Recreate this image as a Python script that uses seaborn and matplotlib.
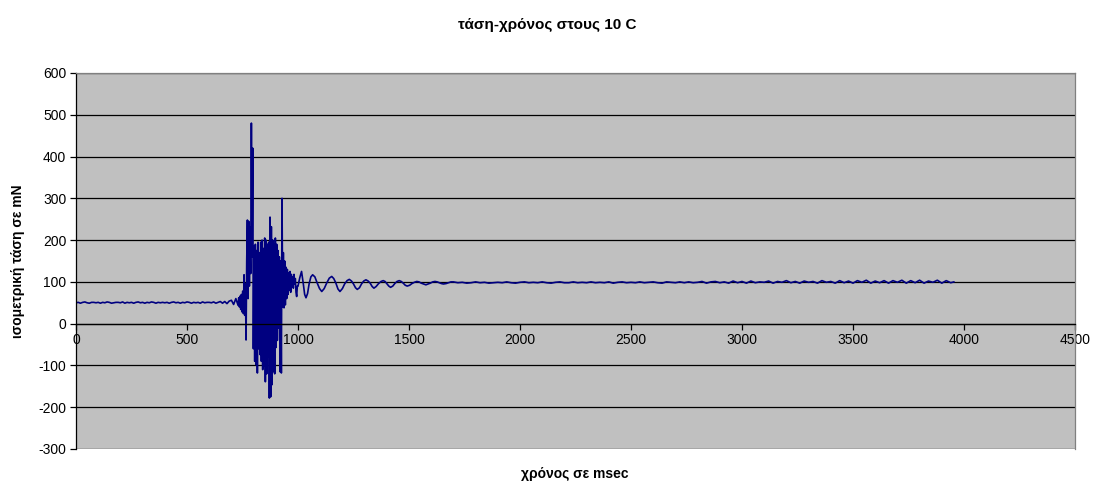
import numpy as np
import pandas as pd
import matplotlib
matplotlib.use("Agg")
import matplotlib.pyplot as plt
import seaborn as sns

# ---- data ----
# resting phase, sampled every 10 ms from 0 to 720 ms
rest_time = np.arange(0, 721, 10)
rest_mN = [50, 51, 49, 51, 52, 50, 49, 51, 51, 50,
           51, 49, 51, 50, 52, 51, 49, 50, 51, 51,
           50, 52, 49, 51, 50, 51, 49, 51, 52, 50,
           51, 49, 51, 50, 52, 51, 49, 51, 50, 51,
           50, 51, 49, 51, 52, 50, 51, 49, 51, 50,
           52, 51, 49, 51, 50, 51, 49, 52, 50, 51,
           51, 50, 52, 49, 51, 53, 49, 53, 48, 54,
           56, 46, 60]

# stimulation burst, sampled every 3 ms from 730 to 997 ms
burst_time = np.arange(730, 998, 3)
burst_mN = [44, 62, 40, 66, 34, 70, 28, 78, 24, 117,
            20, 95, -39, 150, 248, 60, 245, 90, 230, 120,
            480, 160, 420, -60, 185, -90, 190, -98, 175, -118,
            195, -60, 170, -74, 195, -90, 200, -110, 180, -100,
            205, -139, 200, -120, 190, -80, 195, -178, 255, -175,
            232, -146, 200, -115, 190, -120, 205, -57, 190, -40,
            175, -10, 160, -115, 150, -118, 300, 40, 170, 38,
            150, 45, 135, 60, 130, 70, 122, 80, 125, 75,
            118, 90, 112, 85, 118, 95, 108, 75, 65, 90]

# damped oscillation after the burst
ring_time = [1000, 1008, 1016, 1024, 1030, 1036, 1043, 1050, 1058, 1066,
             1076, 1086, 1097, 1107, 1118, 1130, 1141, 1152, 1161, 1170,
             1180, 1189, 1200, 1210, 1221, 1231, 1241, 1250, 1259, 1267,
             1277, 1286, 1296, 1306, 1316, 1325, 1334, 1342, 1352, 1363,
             1374, 1384, 1392, 1400, 1409, 1417, 1427, 1436, 1446, 1456,
             1465, 1474, 1483, 1492, 1503, 1513, 1524, 1535, 1545, 1555,
             1566, 1576, 1586, 1596, 1607, 1617, 1627, 1636, 1646, 1655,
             1667, 1678, 1689, 1700]
ring_mN = [90, 110, 125, 95, 70, 62, 72, 95, 112, 117,
           112, 98, 84, 77, 84, 98, 109, 113, 108, 98,
           83, 77, 84, 95, 103, 106, 102, 95, 86, 82,
           86, 95, 102, 105, 102, 97, 89, 85, 89, 96,
           101, 103, 101, 96, 90, 87, 90, 96, 101, 103,
           101, 97, 92, 90, 92, 96, 99, 101, 100, 97,
           95, 93, 95, 97, 100, 101, 100, 98, 96, 95,
           96, 98, 100, 100]

# plateau, sampled every 20 ms from 1720 to 3940 ms, then last sample
plateau_time = list(np.arange(1720, 3941, 20)) + [3955]
plateau_mN = [98, 99, 97, 98, 100, 98, 99, 97, 98, 99,
              98, 100, 98, 97, 99, 100, 98, 99, 98, 100,
              98, 97, 99, 100, 98, 98, 100, 98, 99, 98,
              100, 98, 99, 98, 100, 97, 99, 100, 98, 99,
              98, 100, 98, 99, 100, 98, 97, 100, 99, 98,
              100, 98, 100, 98, 99, 101, 97, 100, 101, 98,
              100, 97, 102, 98, 101, 97, 102, 98, 100, 99,
              102, 97, 101, 99, 103, 98, 101, 97, 102, 99,
              101, 97, 103, 99, 101, 97, 103, 98, 102, 97,
              103, 99, 104, 97, 102, 98, 103, 97, 103, 99,
              104, 97, 103, 98, 104, 97, 102, 99, 104, 97,
              103, 98, 100]

x_ticks = [0, 500, 1000, 1500, 2000, 2500, 3000, 3500, 4000, 4500]
y_ticks = [-300, -200, -100, 0, 100, 200, 300, 400, 500, 600]

title = "τάση-χρόνος στους 10 C"
x_label = "χρόνος σε msec"
y_label = "ισομετρική τάση σε mN"

df = pd.DataFrame({
    "t": np.concatenate([rest_time, burst_time, ring_time, plateau_time]),
    "v": np.concatenate([rest_mN, burst_mN, ring_mN, plateau_mN]),
})

# ---- style ----
sns.set_style("white", {"axes.facecolor": "#C0C0C0"})
plt.rcParams["font.family"] = ["Liberation Sans", "DejaVu Sans"]
plt.rcParams["text.color"] = "black"
plt.rcParams["xtick.color"] = "black"
plt.rcParams["ytick.color"] = "black"

fig = plt.figure(figsize=(10.94, 4.83), dpi=100)
ax = fig.add_axes([76 / 1094, 1 - 449 / 483, (1075 - 76) / 1094, (449 - 73) / 483])

sns.lineplot(data=df, x="t", y="v", ax=ax, color="#000080", linewidth=1.2,
             estimator=None, sort=False)

ax.set_xlim(0, 4500)
ax.set_ylim(-300, 600)
ax.set_xticks(x_ticks)
ax.set_yticks(y_ticks)
ax.set_xticklabels([str(v) for v in x_ticks], fontsize=10, color="black")
ax.set_yticklabels([str(v) for v in y_ticks], fontsize=10, color="black")

ax.yaxis.grid(True, color="black", linewidth=0.9)
ax.xaxis.grid(False)
ax.set_axisbelow(True)

ax.spines["bottom"].set_position(("data", 0))
ax.spines["bottom"].set_color("black")
ax.spines["left"].set_color("black")
ax.spines["top"].set_color("#808080")
ax.spines["right"].set_color("#808080")
for s in ax.spines.values():
    s.set_linewidth(0.9)
    s.set_visible(True)

ax.tick_params(axis="x", direction="out", length=4, width=0.9, color="black",
               pad=3, bottom=True)
ax.tick_params(axis="y", direction="out", length=4, width=0.9, color="black",
               pad=3, left=True)

ax.set_xlabel("")
ax.set_ylabel("")
fig.text(547 / 1094, 1 - 25 / 483, title, ha="center", va="center",
         fontsize=11, fontweight="bold", color="black")
fig.text(575 / 1094, 1 - 474 / 483, x_label, ha="center", va="center",
         fontsize=10, fontweight="bold", color="black")
fig.text(18 / 1094, 1 - 261 / 483, y_label, ha="center", va="center",
         rotation=90, fontsize=10, fontweight="bold", color="black")

fig.savefig("out.png", dpi=100, facecolor="white")
